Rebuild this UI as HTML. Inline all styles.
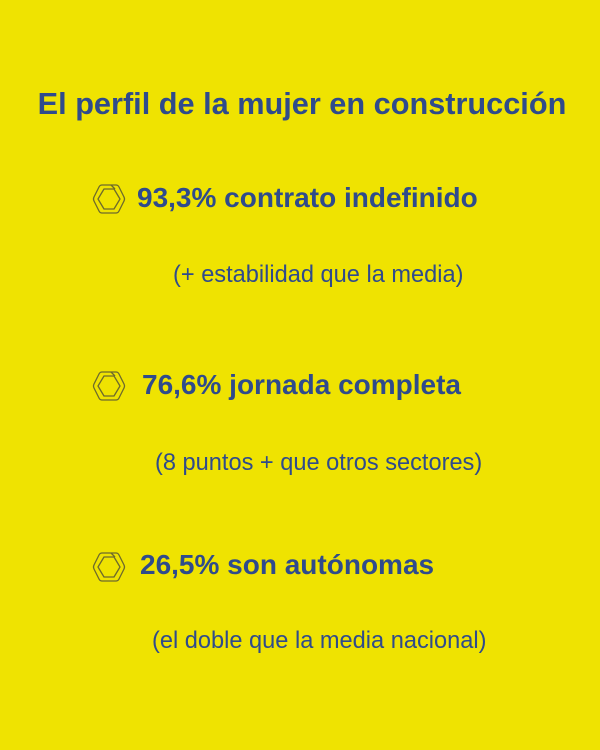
<!DOCTYPE html>
<html><head><meta charset="utf-8"><style>
body{margin:0;width:600px;height:750px;background:#efe301;font-family:"Liberation Sans",sans-serif;color:#2f4b8c;position:relative;overflow:hidden}
.t{position:absolute;white-space:nowrap}
.title{left:0;width:604px;text-align:center;top:86px;font-size:30.7px;font-weight:bold}
.h{font-size:28px;font-weight:bold}
.s{font-size:23.6px}
svg{position:absolute}
</style></head><body>
<div class="t title">El perfil de la mujer en construcción</div>
<svg style="left:91px;top:182px" width="36" height="34" viewBox="0 0 36 34"><g fill="none" stroke="#6d6a2c" stroke-width="1.3" stroke-linejoin="round"><path d="M11 3 L25 3 Q27 3 28 5 L33 15 Q34 17 33 19 L28 29 Q27 31 25 31 L11 31 Q9 31 8 29 L3 19 Q2 17 3 15 L8 5 Q9 3 11 3 Z"/><path d="M13 7 L23 7 L29 17 L23 27 L13 27 L7 17 Z"/><path d="M20 3 L24 7"/></g></svg>
<div class="t h" style="left:137px;top:182px">93,3% contrato indefinido</div>
<div class="t s" style="left:173px;top:262px">(+ estabilidad que la media)</div>
<svg style="left:91px;top:369px" width="36" height="34" viewBox="0 0 36 34"><g fill="none" stroke="#6d6a2c" stroke-width="1.3" stroke-linejoin="round"><path d="M11 3 L25 3 Q27 3 28 5 L33 15 Q34 17 33 19 L28 29 Q27 31 25 31 L11 31 Q9 31 8 29 L3 19 Q2 17 3 15 L8 5 Q9 3 11 3 Z"/><path d="M13 7 L23 7 L29 17 L23 27 L13 27 L7 17 Z"/><path d="M20 3 L24 7"/></g></svg>
<div class="t h" style="left:142px;top:369px">76,6% jornada completa</div>
<div class="t s" style="left:155px;top:450px">(8 puntos + que otros sectores)</div>
<svg style="left:91px;top:550px" width="36" height="34" viewBox="0 0 36 34"><g fill="none" stroke="#6d6a2c" stroke-width="1.3" stroke-linejoin="round"><path d="M11 3 L25 3 Q27 3 28 5 L33 15 Q34 17 33 19 L28 29 Q27 31 25 31 L11 31 Q9 31 8 29 L3 19 Q2 17 3 15 L8 5 Q9 3 11 3 Z"/><path d="M13 7 L23 7 L29 17 L23 27 L13 27 L7 17 Z"/><path d="M20 3 L24 7"/></g></svg>
<div class="t h" style="left:140px;top:549px">26,5% son autónomas</div>
<div class="t s" style="left:152px;top:628px">(el doble que la media nacional)</div>
</body></html>
